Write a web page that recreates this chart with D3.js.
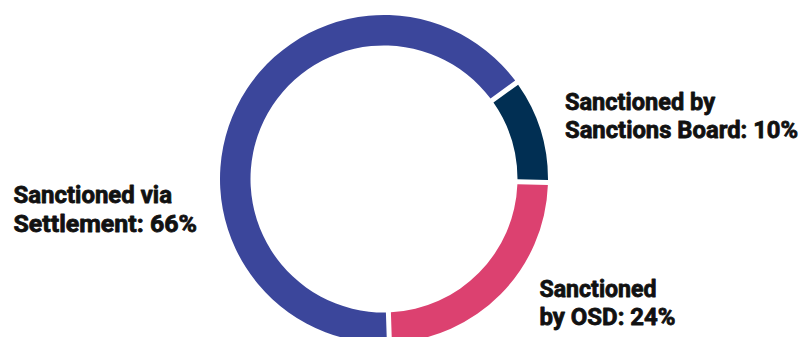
<!DOCTYPE html>
<html>
<head>
<meta charset="utf-8">
<script src="https://cdn.jsdelivr.net/npm/d3@7"></script>
<style>
  html, body { margin: 0; padding: 0; background: #ffffff; }
  svg { display: block; }
  text { font-family: Roboto, "Noto Sans", sans-serif; font-weight: 700; fill: #111111; stroke: #111111; stroke-width: 0.8px; stroke-linejoin: round; }
</style>
</head>
<body>
<svg id="chart" width="809" height="337"></svg>
<script>
// Share of sanctioned cases by route
const categories = ["Sanctions Board", "OSD", "Settlement"];
const shares = [10, 24, 66];
const colors = ["#012f53", "#dc4170", "#3b469b"];
const labelLines = [
  ["Sanctioned by", "Sanctions Board: 10%"],
  ["Sanctioned", "by OSD: 24%"],
  ["Sanctioned via", "Settlement: 66%"]
];

const width = 809, height = 337;
const cx = 384, cy = 179;
const outerR = 164, innerR = 133.5;

const svg = d3.select("#chart");
const g = svg.append("g").attr("transform", `translate(${cx},${cy})`);

const pie = d3.pie()
  .sort(null)
  .value(d => d)
  .startAngle(Math.PI * 2 * 0.15)
  .endAngle(Math.PI * 2 * 1.15)
  .padAngle(5 / outerR);

const arc = d3.arc()
  .innerRadius(innerR)
  .outerRadius(outerR)
  .padRadius(outerR);

g.selectAll("path")
  .data(pie(shares))
  .join("path")
  .attr("d", arc)
  .attr("fill", (d, i) => colors[i]);

// Labels: position and fitted width for each line
const labelLayout = [
  { x: 565, y: [110, 138], w: [150, 233] },
  { x: 539.5, y: [297, 325], w: [117, 136] },
  { x: 13.5, y: [203, 232], w: [158.5, 183.5] }
];

categories.forEach((c, i) => {
  const L = labelLayout[i];
  const t = svg.append("text").attr("font-size", 24);
  labelLines[i].forEach((line, j) => {
    t.append("tspan")
      .attr("x", L.x)
      .attr("y", L.y[j])
      .attr("textLength", L.w[j])
      .attr("lengthAdjust", "spacingAndGlyphs")
      .text(line);
  });
});
</script>
</body>
</html>
